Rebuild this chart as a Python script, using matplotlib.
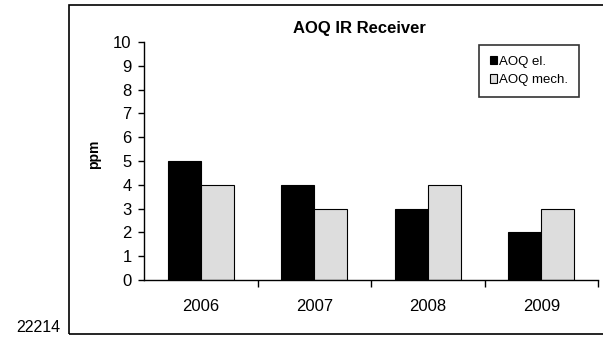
import numpy as np
import matplotlib.pyplot as plt
from matplotlib.patches import Rectangle

plt.rcParams['font.family'] = ['Liberation Sans', 'DejaVu Sans']

years = ['2006', '2007', '2008', '2009']
aoq_el = [5, 4, 3, 2]
aoq_mech = [4, 3, 4, 3]

W, H = 603, 341
fig = plt.figure(figsize=(W / 100, H / 100), dpi=100)

# outer chart frame, right side runs off the page
fig.patches.append(Rectangle((69 / W, 1 - 334 / H), 1.0, (334 - 5) / H,
                             transform=fig.transFigure, fill=False,
                             edgecolor='black', linewidth=1.2))

ax = fig.add_axes([144 / W, 1 - 280 / H, (598 - 144) / W, (280 - 42) / H])

x = np.arange(len(years))
bw = 0.29
ax.bar(x - bw / 2, aoq_el, bw, color='black', edgecolor='black',
       linewidth=0.8, label='AOQ el.')
ax.bar(x + bw / 2, aoq_mech, bw, color='#dddddd', edgecolor='black',
       linewidth=0.8, label='AOQ mech.')

ax.set_xlim(-0.5, len(years) - 0.5)
ax.set_ylim(0, 10)
ax.set_yticks(range(0, 11))
ax.set_xticks(x)
ax.set_xticklabels(years, fontsize=12)
ax.tick_params(axis='x', length=0, pad=14)
ax.set_xticks(np.arange(0.5, len(years)), minor=True)
ax.tick_params(axis='x', which='minor', length=5, direction='out', width=1)
ax.tick_params(axis='y', labelsize=12, length=4, width=1, pad=5)

for side in ['top', 'right']:
    ax.spines[side].set_visible(False)
for side in ['left', 'bottom']:
    ax.spines[side].set_linewidth(1)

ax.set_ylabel('ppm', fontsize=10, fontweight='bold')
ax.yaxis.set_label_coords(-0.095, 0.53)
fig.text(359 / W, 1 - 29 / H, 'AOQ IR Receiver', fontsize=12,
         fontweight='bold', ha='center', va='center')

leg = ax.legend(loc='upper right', bbox_to_anchor=(579 / W, 1 - 45 / H),
                bbox_transform=fig.transFigure,
                fontsize=9.5, frameon=True, fancybox=False,
                handlelength=0.6, handleheight=0.6, handletextpad=0.15,
                borderpad=0.8, labelspacing=0.5, borderaxespad=0)
leg.get_frame().set_edgecolor('black')
leg.get_frame().set_linewidth(1.2)

fig.text(16 / W, 1 - 328 / H, '22214', fontsize=11.5, va='center', ha='left')

fig.savefig('out.png', dpi=100)
